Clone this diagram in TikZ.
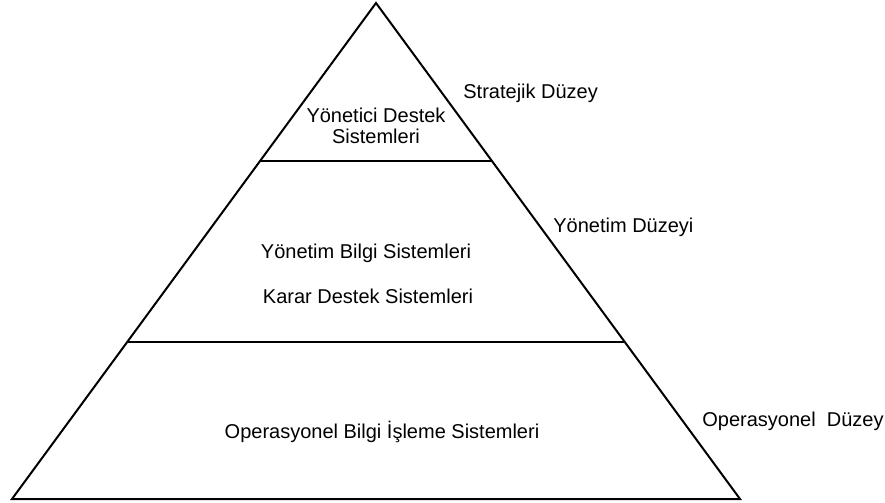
\documentclass[tikz,border=0pt]{standalone}
\usepackage{fontspec}
\setmainfont{Liberation Sans}
\usetikzlibrary{calc}
\begin{document}
\begin{tikzpicture}[x=0.5pt,y=-0.5pt,
  edge/.style={line width=1pt,line join=miter},
  lbl/.style={inner sep=0pt,font=\fontsize{10}{10.5}\selectfont,anchor=base},
  lblw/.style={inner sep=0pt,font=\fontsize{10}{10.5}\selectfont,anchor=base west}]
\useasboundingbox (0,0) rectangle (885,503);
\coordinate (apex) at (376,3);
\coordinate (bl) at (12,499);
\coordinate (br) at (740,499);
\coordinate (l1) at ($(apex)!0.3185!(bl)$);
\coordinate (r1) at ($(apex)!0.3185!(br)$);
\coordinate (l2) at ($(apex)!0.6835!(bl)$);
\coordinate (r2) at ($(apex)!0.6835!(br)$);
\draw[edge] (bl) -- (apex) -- (br) -- cycle;
\draw[edge] (l1) -- (r1);
\draw[edge] (l2) -- (r2);
\node[lbl] (yds1) at (376,122) {Yönetici Destek};
\node[lbl] (yds2) at (376,143) {Sistemleri};
\node[lblw] (strat) at (463,98) {Stratejik Düzey};
\node[lblw] (ydz) at (553,232) {Yönetim Düzeyi};
\node[lbl] (ybs) at (366,258) {Yönetim Bilgi Sistemleri};
\node[lbl] (kds) at (368,303) {Karar Destek Sistemleri};
\node[lbl] (obis) at (382,438) {Operasyonel Bilgi İşleme Sistemleri};
\node[lblw] (odz) at (702,426) {Operasyonel\ \ Düzey};
\end{tikzpicture}
\end{document}
